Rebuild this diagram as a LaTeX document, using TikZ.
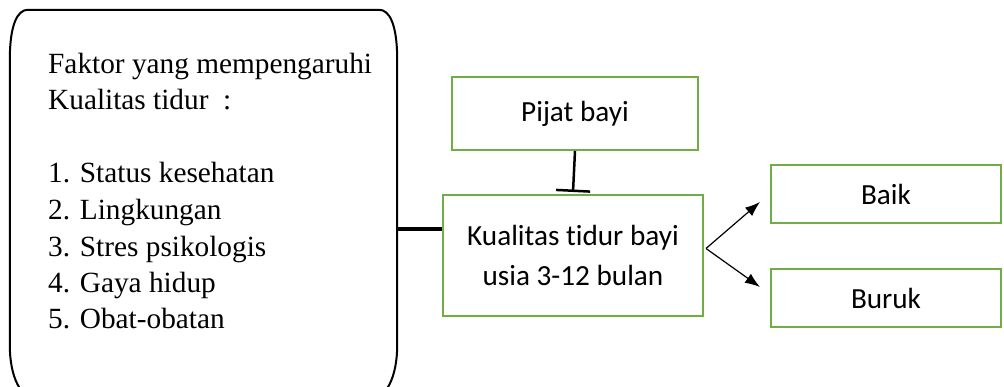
\documentclass[tikz,border=0pt]{standalone}
\usepackage{fontspec}
\setmainfont{Liberation Serif}
\newfontfamily\calibri[Ligatures=NoCommon]{Carlito}
\usetikzlibrary{calc, arrows.meta}
\definecolor{hijau}{RGB}{112,173,71}
\tikzset{
  kotak/.style={draw=hijau, line width=2pt, align=center, inner sep=0pt,
    font=\calibri\fontsize{29.2}{39.5}\selectfont},
  tebal/.style={line width=4pt},
}

\begin{document}
\begin{tikzpicture}[x=1pt, y=-1pt, >={Latex[length=15pt,width=11pt]}]
\useasboundingbox (0,0) rectangle (1004,387);
\clip (0,0) rectangle (1004,387);
\node[minimum width=387pt, minimum height=390pt, inner sep=0pt] (faktor) at (203.5,205) {};
\draw[line width=2pt]
  ($(faktor.north west)+(18,0)$) -- ($(faktor.north east)+(-18,0)$)
  .. controls ($(faktor.north east)+(-8,0)$) and ($(faktor.north east)+(0,14)$) .. ($(faktor.north east)+(0,50)$)
  -- ($(faktor.south east)+(0,-55)$)
  .. controls ($(faktor.south east)+(0,-25)$) and ($(faktor.south east)+(-10,0)$) .. ($(faktor.south east)+(-30,0)$)
  -- ($(faktor.south west)+(30,0)$)
  .. controls ($(faktor.south west)+(10,0)$) and ($(faktor.south west)+(0,-25)$) .. ($(faktor.south west)+(0,-55)$)
  -- ($(faktor.north west)+(0,50)$)
  .. controls ($(faktor.north west)+(0,14)$) and ($(faktor.north west)+(8,0)$) .. cycle;
\node[anchor=base west, align=left, inner sep=0pt, font=\fontsize{29.3}{36.5}\selectfont]
  (faktorteks) at (48,329) {Faktor yang mempengaruhi\\Kualitas tidur\ \ :\\[36.5pt]
  1. Status kesehatan\\2. Lingkungan\\3. Stres psikologis\\4. Gaya hidup\\5. Obat-obatan};

\node[kotak, minimum width=246pt, minimum height=73pt] (pijat) at (575,113.5) {Pijat bayi};
\node[kotak, minimum width=260pt, minimum height=121pt] (kualitas) at (573,255.5) {Kualitas tidur bayi\\usia 3-12 bulan};
\node[kotak, minimum width=230pt, minimum height=58pt] (baik) at (886,194) {Baik};
\node[kotak, minimum width=230pt, minimum height=58pt] (buruk) at (886,298) {Buruk};

\draw[line width=2.5pt, -{Bar[width=34pt]}] (pijat.south) -- ([yshift=2pt]kualitas.north);
\coordinate (sambung) at ([yshift=26pt]kualitas.west);
\draw[tebal] (sambung) -- (sambung -| faktor.east);
\coordinate (cabang) at ([xshift=2pt,yshift=7pt]kualitas.east);
\draw[->, line width=1.2pt] (cabang) -- ([xshift=-10pt,yshift=-8pt]baik.west);
\draw[->, line width=1.2pt] (cabang) -- ([xshift=-10pt,yshift=11pt]buruk.west);
\end{tikzpicture}
\end{document}
